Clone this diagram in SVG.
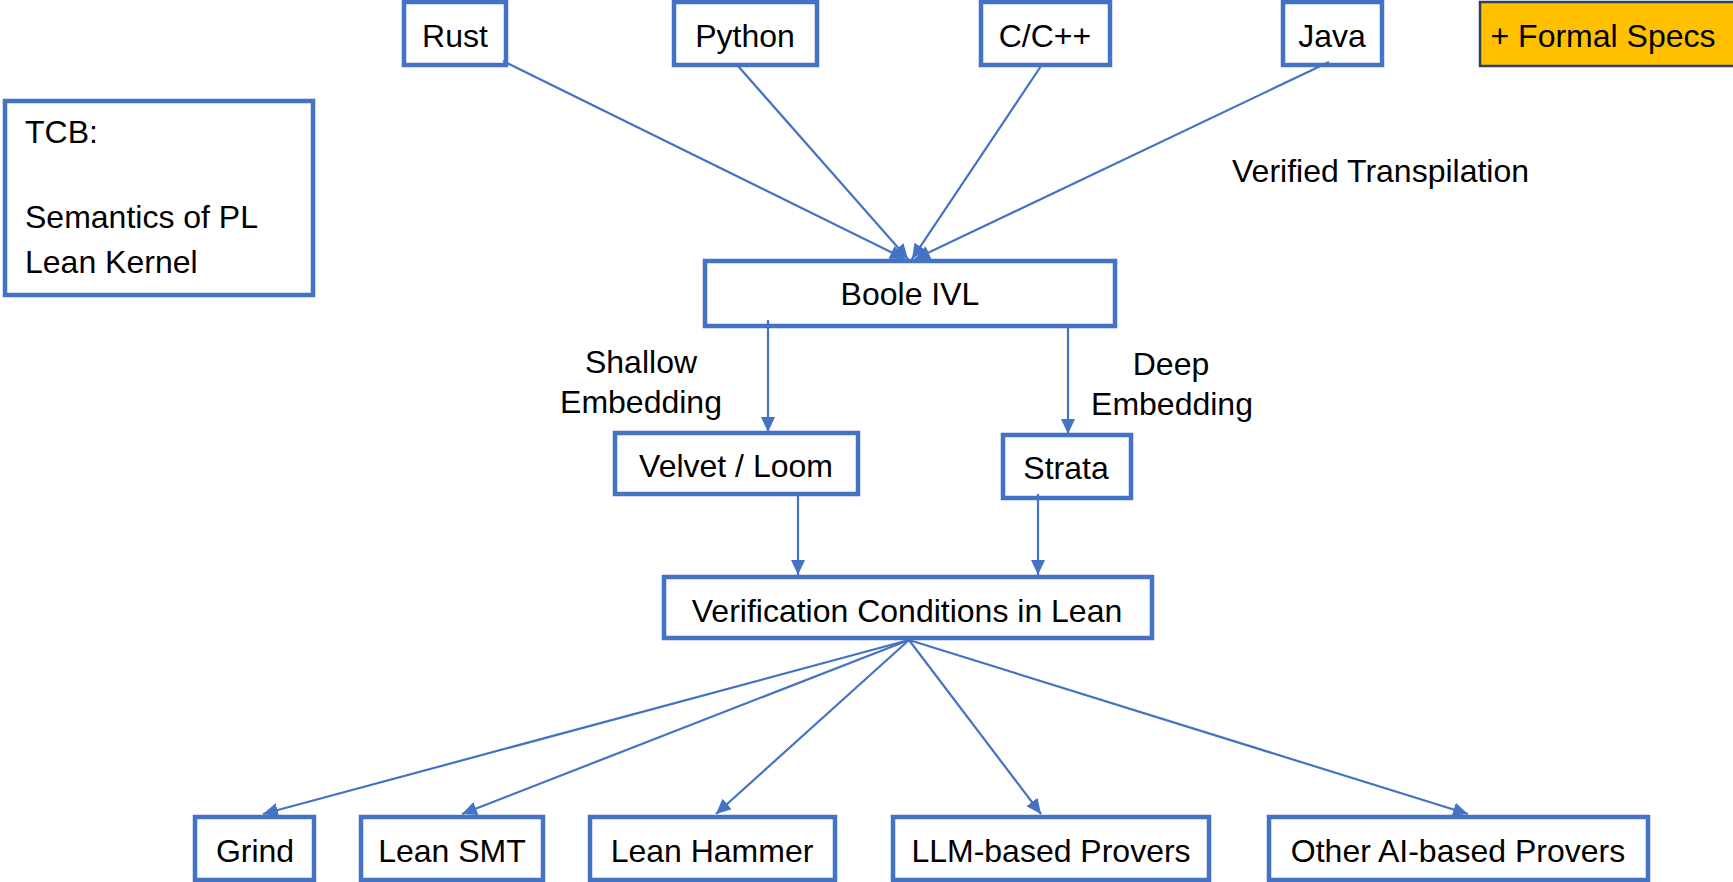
<svg xmlns="http://www.w3.org/2000/svg" width="1733" height="882" viewBox="0 0 1733 882">
<style>
.box{fill:#fff;stroke:#4472C4;stroke-width:4.5}
.t{font-family:"Liberation Sans",Arial,sans-serif;font-size:32px;fill:#000}
.c{text-anchor:middle}
.e{fill:none;stroke:#4472C4;stroke-width:2.2}
</style>
<defs>
<marker id="ah" markerUnits="userSpaceOnUse" markerWidth="16" markerHeight="14" refX="15" refY="7" orient="auto">
<path d="M0,0 L15,7 L0,14 Z" fill="#4472C4"/>
</marker>
</defs>
<g id="rust"><rect class="box" x="404" y="2" width="102" height="63"/><text class="t c" x="455" y="47">Rust</text></g>
<g id="python"><rect class="box" x="674" y="2" width="143" height="63"/><text class="t c" x="745" y="47">Python</text></g>
<g id="cpp"><rect class="box" x="981" y="2" width="129" height="63"/><text class="t c" x="1045" y="47">C/C++</text></g>
<g id="java"><rect class="box" x="1283" y="2" width="99" height="63"/><text class="t c" x="1332" y="47">Java</text></g>
<g id="specs"><rect x="1480" y="2" width="262" height="64" fill="#FFC000" stroke="#2F3E5C" stroke-width="2.5"/><text class="t c" x="1603" y="47">+ Formal Specs</text></g>
<g id="tcb"><rect class="box" x="5" y="101" width="308" height="194"/><text class="t" x="25" y="143">TCB:</text><text class="t" x="25" y="228">Semantics of PL</text><text class="t" x="25" y="273">Lean Kernel</text></g>
<g id="transpilation"><text class="t" x="1232" y="182">Verified Transpilation</text></g>
<g id="boole"><rect class="box" x="705" y="261" width="410" height="65"/><text class="t c" x="910" y="305">Boole IVL</text></g>
<g id="shallow"><text class="t c" x="641" y="373">Shallow</text><text class="t c" x="641" y="413">Embedding</text></g>
<g id="deep"><text class="t c" x="1171" y="375">Deep</text><text class="t c" x="1172" y="415">Embedding</text></g>
<g id="velvet"><rect class="box" x="615" y="433" width="243" height="61"/><text class="t c" x="736" y="477">Velvet / Loom</text></g>
<g id="strata"><rect class="box" x="1003" y="435" width="128" height="63"/><text class="t c" x="1066" y="479">Strata</text></g>
<g id="vc"><rect class="box" x="664" y="577" width="488" height="61"/><text class="t c" x="907" y="622">Verification Conditions in Lean</text></g>
<g id="grind"><rect class="box" x="195" y="817" width="119" height="63"/><text class="t c" x="255" y="862">Grind</text></g>
<g id="leansmt"><rect class="box" x="361" y="817" width="182" height="63"/><text class="t c" x="452" y="862">Lean SMT</text></g>
<g id="hammer"><rect class="box" x="590" y="817" width="245" height="63"/><text class="t c" x="712" y="862">Lean Hammer</text></g>
<g id="llm"><rect class="box" x="893" y="817" width="316" height="63"/><text class="t c" x="1051" y="862">LLM-based Provers</text></g>
<g id="other"><rect class="box" x="1269" y="817" width="379" height="63"/><text class="t c" x="1458" y="862">Other AI-based Provers</text></g>
<g id="connectors">
<line class="e" x1="503" y1="61" x2="905" y2="259" marker-end="url(#ah)"/>
<line class="e" x1="738" y1="66" x2="908" y2="259" marker-end="url(#ah)"/>
<line class="e" x1="1041" y1="66" x2="912" y2="259" marker-end="url(#ah)"/>
<line class="e" x1="1329" y1="62" x2="915" y2="259" marker-end="url(#ah)"/>
<line class="e" x1="768" y1="320" x2="768" y2="432" marker-end="url(#ah)"/>
<line class="e" x1="1068" y1="326" x2="1068" y2="434" marker-end="url(#ah)"/>
<line class="e" x1="798" y1="496" x2="798" y2="575" marker-end="url(#ah)"/>
<line class="e" x1="1038" y1="494" x2="1038" y2="575" marker-end="url(#ah)"/>
<line class="e" x1="909" y1="640" x2="263" y2="814" marker-end="url(#ah)"/>
<line class="e" x1="909" y1="640" x2="462" y2="814" marker-end="url(#ah)"/>
<line class="e" x1="909" y1="640" x2="716" y2="814" marker-end="url(#ah)"/>
<line class="e" x1="909" y1="640" x2="1041" y2="814" marker-end="url(#ah)"/>
<line class="e" x1="909" y1="640" x2="1468" y2="814" marker-end="url(#ah)"/>
</g>
</svg>
